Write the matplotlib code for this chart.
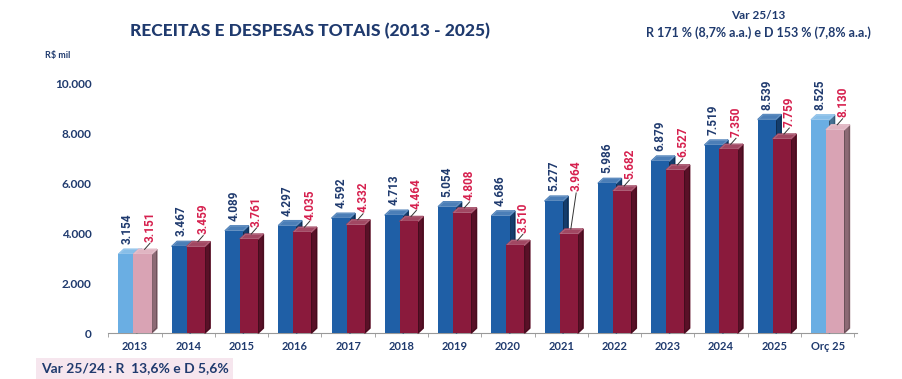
import matplotlib
matplotlib.use("Agg")
from matplotlib import pyplot as plt
from matplotlib.patches import Polygon
import numpy as np

anos = ["2013", "2014", "2015", "2016", "2017", "2018", "2019", "2020",
        "2021", "2022", "2023", "2024", "2025", "Orç 25"]
receitas = [3154, 3467, 4089, 4297, 4592, 4713, 5054, 4686, 5277, 5986, 6879, 7519, 8539, 8525]
despesas = [3151, 3459, 3761, 4035, 4332, 4464, 4808, 3510, 3964, 5682, 6527, 7350, 7759, 8130]
yticks = [0, 2000, 4000, 6000, 8000, 10000]
ylabels = ["0", "2.000", "4.000", "6.000", "8.000", "10.000"]

def fmt(v):
    return f"{v/1000:.3f}"

azul, azul_claro = "#1f5fa6", "#6aaee3"
verm, rosa = "#8a1a3c", "#d9a3b4"
navy = "#1f3a6e"
lbl_r = "#d6204e"

plt.rcParams["font.family"] = ["Lato", "DejaVu Sans"]
fig = plt.figure(figsize=(9.03, 3.79), dpi=100)
ax = fig.add_axes([0.12, 0.121, 0.829, 0.66])

x = np.arange(len(anos))
w = 0.34
off = 0.14
dx, dy = 0.1, 200  # profundidade 3d

def bar3d(xc, h, cor, z):
    ax.bar(xc, h, w, color=cor, zorder=z, linewidth=0)
    l, r = xc - w / 2, xc + w / 2
    lado = [(r, 0), (r + dx, dy), (r + dx, h + dy), (r, h)]
    topo = [(l, h), (l + dx, h + dy), (r + dx, h + dy), (r, h)]
    ax.add_patch(Polygon(lado, closed=True, color=cor, zorder=z - 0.5, clip_on=False))
    ax.add_patch(Polygon(lado, closed=True, color="black", alpha=0.35, zorder=z - 0.4, clip_on=False))
    ax.add_patch(Polygon(topo, closed=True, color=cor, zorder=z - 0.4, clip_on=False))
    ax.add_patch(Polygon(topo, closed=True, color="white", alpha=0.2, zorder=z - 0.3, clip_on=False))

n = len(anos)
fonte_val = ["Roboto", "DejaVu Sans"]
for i in range(n):
    claro = i == 0 or i == n - 1
    cb = azul_claro if claro else azul
    cr = rosa if claro else verm
    bar3d(x[i] - off, receitas[i], cb, 3 + i * 0.01)
    bar3d(x[i] + off, despesas[i], cr, 4 + i * 0.01)
    ax.text(x[i] - off, receitas[i] + 400, fmt(receitas[i]), rotation=90,
            ha="center", va="bottom", fontsize=8.5, color=navy, fontweight="bold",
            family=fonte_val, clip_on=False)
    yr = despesas[i] + 500
    if i == 8:
        yr = despesas[i] + 1700
    ax.text(x[i] + off + 0.14, yr, fmt(despesas[i]), rotation=90,
            ha="center", va="bottom", fontsize=8.5, color=lbl_r, fontweight="bold",
            family=fonte_val, clip_on=False)
    ax.plot([x[i] + off + 0.04, x[i] + off + 0.14], [despesas[i] + dy, yr - 60],
            color="#333333", lw=0.7, zorder=6, clip_on=False)

ax.set_ylim(0, 10000)
ax.set_xlim(-0.48, n - 0.45)
ax.set_yticks(yticks)
ax.set_yticklabels(ylabels, fontsize=8.5, fontweight="bold", color=navy)
ax.set_xticks(x)
ax.set_xticklabels(anos, fontsize=8, fontweight="bold", color=navy)
ax.tick_params(axis="y", length=0, pad=12)
ax.tick_params(axis="x", length=0, pad=6)
for s in ["top", "right", "left"]:
    ax.spines[s].set_visible(False)
ax.spines["bottom"].set_color("#999999")
ax.set_xticks(np.arange(n + 1) - 0.5, minor=True)
ax.tick_params(axis="x", which="minor", length=3, color="#999999", direction="out")

fig.text(0.343, 0.918, "RECEITAS E DESPESAS TOTAIS (2013 - 2025)", ha="center",
         va="center", fontsize=12.5, fontweight="black", color=navy)
fig.text(0.84, 0.96, "Var 25/13", ha="center", va="center", fontsize=8.5,
         fontweight="bold", color=navy)
fig.text(0.84, 0.913, "R 171 % (8,7% a.a.) e D 153 % (7,8% a.a.)", ha="center",
         va="center", fontsize=9, fontweight="bold", color=navy)
fig.text(0.05, 0.853, "R$ mil", ha="left", va="center", fontsize=6.5,
         fontweight="bold", color=navy)
fig.text(0.045, 0.028, "Var 25/24 : R  13,6% e D 5,6%", ha="left", va="center",
         fontsize=10, fontweight="bold", color=navy,
         bbox=dict(boxstyle="square,pad=0.3", fc="#f6e6ee", ec="none"))

plt.savefig("out.png", dpi=100)
